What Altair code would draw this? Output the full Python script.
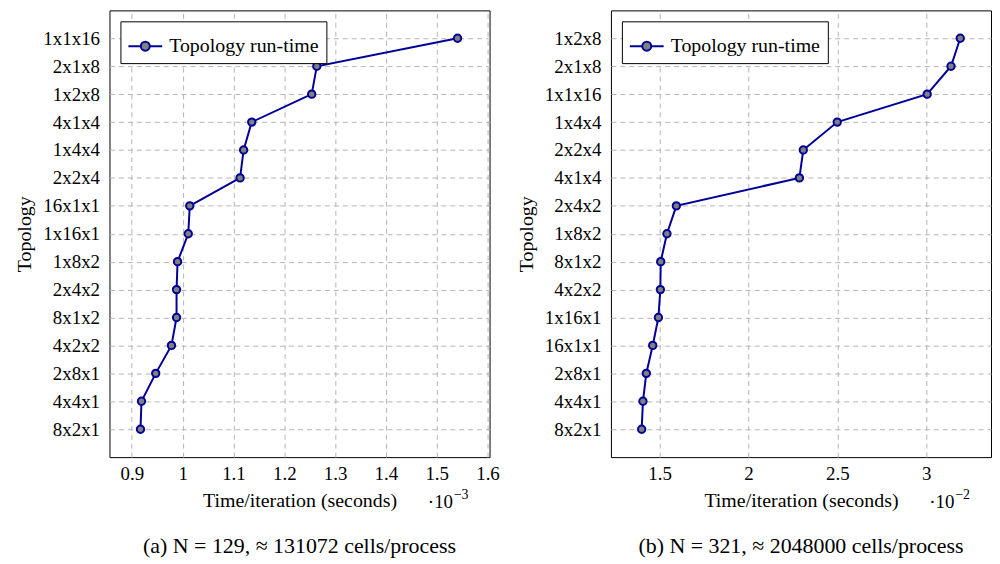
import altair as alt
import pandas as pd

# ---- data ----
topo_a = ["1x1x16", "2x1x8", "1x2x8", "4x1x4", "1x4x4", "2x2x4", "16x1x1", "1x16x1",
          "1x8x2", "2x4x2", "8x1x2", "4x2x2", "2x8x1", "4x4x1", "8x2x1"]
time_a = [1.541, 1.264, 1.254, 1.136, 1.120, 1.113, 1.014, 1.011,
          0.990, 0.988, 0.988, 0.978, 0.947, 0.919, 0.917]          # x 10^-3 s

topo_b = ["1x2x8", "2x1x8", "1x1x16", "1x4x4", "2x2x4", "4x1x4", "2x4x2", "1x8x2",
          "8x1x2", "4x2x2", "1x16x1", "16x1x1", "2x8x1", "4x4x1", "8x2x1"]
time_b = [3.191, 3.139, 3.005, 2.499, 2.308, 2.286, 1.594, 1.541,
          1.506, 1.504, 1.493, 1.461, 1.425, 1.406, 1.399]          # x 10^-2 s

xticks_a = [0.9, 1.0, 1.1, 1.2, 1.3, 1.4, 1.5, 1.6]
xticks_b = [1.5, 2.0, 2.5, 3.0]
xdomain_a = [0.856, 1.604]
xdomain_b = [1.226, 3.364]
exponents = ["\u22123", "\u22122"]
captions = ["(a) N = 129, \u2248 131072 cells/process",
            "(b) N = 321, \u2248 2048000 cells/process"]
series_name = "Topology run-time"

BLUE = "#000099"
GRAY = "#808080"
FONT = "Liberation Serif"
W, H = 382, 449

R = 0.265
LEG_PATH = (f"M-1,0H-{R} M{R},0H1 "
            f"M-{R},0A{R},{R},0,1,1,{R},0A{R},{R},0,1,1,-{R},0Z")


def panel(topos, times, xdomain, xticks, exponent, caption):
    df = pd.DataFrame({
        "topology": topos,
        "time": times,
        "series": [series_name] * len(topos),
        "rank": list(range(len(topos))),
    })
    base = alt.Chart(df)
    x = alt.X("time:Q",
              scale=alt.Scale(domain=xdomain, nice=False, zero=False),
              axis=alt.Axis(values=xticks, format="~g",
                            title="Time/iteration (seconds)",
                            labelFlush=False, labelPadding=7, titlePadding=8,
                            labelFontSize=19, titleFontSize=20,
                            titleFontWeight="normal", grid=True))
    y = alt.Y("topology:N", sort=topos,
              scale=alt.Scale(type="point", padding=1.33),
              axis=alt.Axis(title="Topology", labelPadding=10, titlePadding=8,
                            labelFontSize=19, titleFontSize=20,
                            titleFontWeight="normal", grid=True))
    color = alt.Color("series:N", scale=alt.Scale(range=[BLUE]),
                      legend=alt.Legend(
                          title=None, orient="top-left", offset=11, padding=7,
                          strokeColor="black", fillColor="white", cornerRadius=0,
                          labelFont=FONT, labelFontSize=20, labelColor="black",
                          labelOffset=6, symbolType=LEG_PATH, symbolSize=1156,
                          symbolStrokeWidth=2, symbolFillColor=GRAY,
                          symbolStrokeColor=BLUE, symbolOpacity=1))
    line = base.mark_line(strokeWidth=2).encode(
        x=x, y=y, order="rank:Q", color=color)
    pts = base.mark_point(filled=True, fill=GRAY, stroke=BLUE, strokeWidth=2,
                          size=55, opacity=1).encode(x=x, y=y)
    exp_df = pd.DataFrame({"t": ["\u00b710"], "e": [exponent]})
    t10 = alt.Chart(exp_df).mark_text(align="left", baseline="alphabetic",
                                      fontSize=19, font=FONT, color="black").encode(
        x=alt.value(W - 62), y=alt.value(H + 51), text="t:N")
    texp = alt.Chart(exp_df).mark_text(align="left", baseline="alphabetic",
                                       fontSize=14, font=FONT, color="black").encode(
        x=alt.value(W - 36), y=alt.value(H + 42), text="e:N")
    return alt.layer(line, pts, t10, texp).properties(
        width=W, height=H,
        title=alt.TitleParams(text=caption, orient="bottom", fontSize=22,
                              fontWeight="normal", offset=24, anchor="middle",
                              font=FONT, color="black"))


left = panel(topo_a, time_a, xdomain_a, xticks_a, exponents[0], captions[0])
right = panel(topo_b, time_b, xdomain_b, xticks_b, exponents[1], captions[1])

chart = alt.hconcat(left, right, spacing=15).resolve_scale(
    color="independent").resolve_legend(color="independent").properties(
    padding={"left": 6, "top": 0, "right": 0, "bottom": 0}
).configure(font=FONT).configure_view(
    stroke="black", strokeWidth=1
).configure_axis(
    labelFont=FONT, titleFont=FONT, labelColor="black", titleColor="black",
    domain=False, ticks=False, tickSize=0,
    gridColor="#b4b4b4", gridDash=[5, 4], gridWidth=1
)

chart.save("out.html", embed_options={"renderer": "svg", "actions": False})
